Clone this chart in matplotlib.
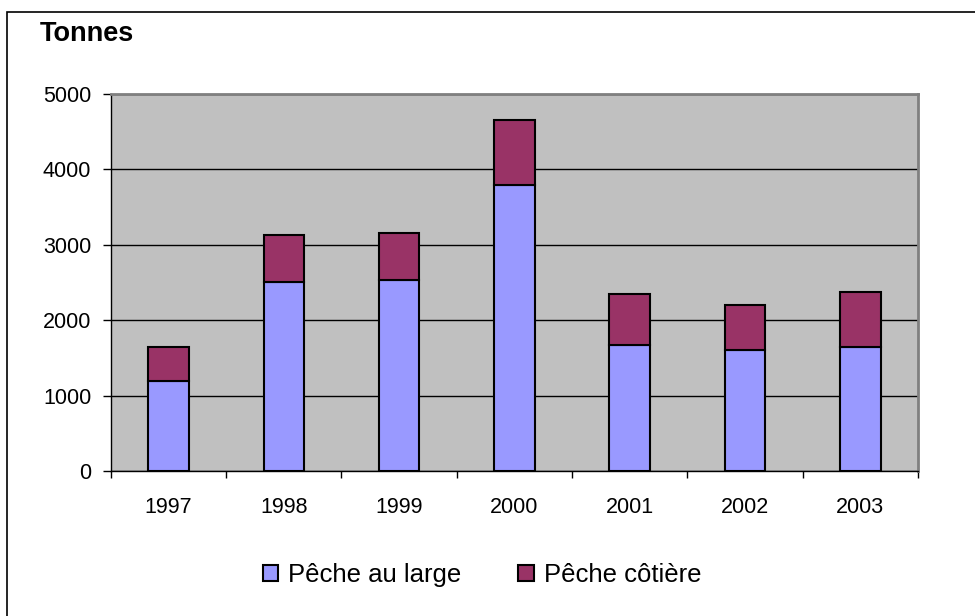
import matplotlib.pyplot as plt
from matplotlib.patches import Rectangle
from matplotlib.ticker import FixedLocator

plt.rcParams['font.family'] = ['Liberation Sans', 'DejaVu Sans']

years = ['1997', '1998', '1999', '2000', '2001', '2002', '2003']
large = [1195, 2510, 2535, 3790, 1668, 1611, 1642]
cotiere = [447, 615, 615, 867, 673, 588, 730]
labels = ['Pêche au large', 'Pêche côtière']
colors = ['#9999FF', '#993366']

W, H = 975, 616
fig = plt.figure(figsize=(W / 100, H / 100), dpi=100)

# outer frame of the chart area
fig.add_artist(Rectangle((7 / W, 0 - 0.01), 1.02, 1 - 12 / H + 0.01,
                         transform=fig.transFigure, fill=False,
                         edgecolor='black', linewidth=1.2))

ax = fig.add_axes([110.7 / W, 1 - 471 / H, (918 - 110.7) / W, (471 - 94) / H])
ax.set_facecolor('#C0C0C0')

x = range(len(years))
ax.bar(x, large, width=0.35, color=colors[0], edgecolor='black',
       linewidth=1.5, label=labels[0], zorder=3)
ax.bar(x, cotiere, width=0.35, bottom=large, color=colors[1],
       edgecolor='black', linewidth=1.5, label=labels[1], zorder=3)

ax.set_xlim(-0.5, len(years) - 0.5)
ax.set_ylim(0, 5000)
ax.set_yticks(range(0, 5001, 1000))
ax.yaxis.grid(True, color='black', linewidth=1.0, zorder=1)
ax.set_axisbelow(True)

ax.set_xticks(list(x))
ax.set_xticklabels(years, fontsize=15.5)
ax.xaxis.set_minor_locator(FixedLocator([i - 0.5 for i in range(len(years) + 1)]))
ax.tick_params(axis='x', which='major', length=0, pad=19)
ax.tick_params(axis='x', which='minor', length=5, width=1, color='black')
ax.tick_params(axis='y', length=6, width=1, pad=8, labelsize=15.5)

for side in ['top', 'right']:
    ax.spines[side].set_color('#808080')
    ax.spines[side].set_linewidth(2)
for side in ['left', 'bottom']:
    ax.spines[side].set_color('black')
    ax.spines[side].set_linewidth(1)

fig.text(40 / W, 1 - 34 / H, 'Tonnes', fontsize=19.5, fontweight='bold',
         va='center', ha='left')

ax.legend(loc='center', bbox_to_anchor=(482 / W, 1 - 575 / H),
          bbox_transform=fig.transFigure, ncol=2, frameon=False,
          fontsize=18.5, handlelength=0.6, handleheight=0.6,
          handletextpad=0.4, columnspacing=2.2)

fig.savefig('out.png', dpi=100)
